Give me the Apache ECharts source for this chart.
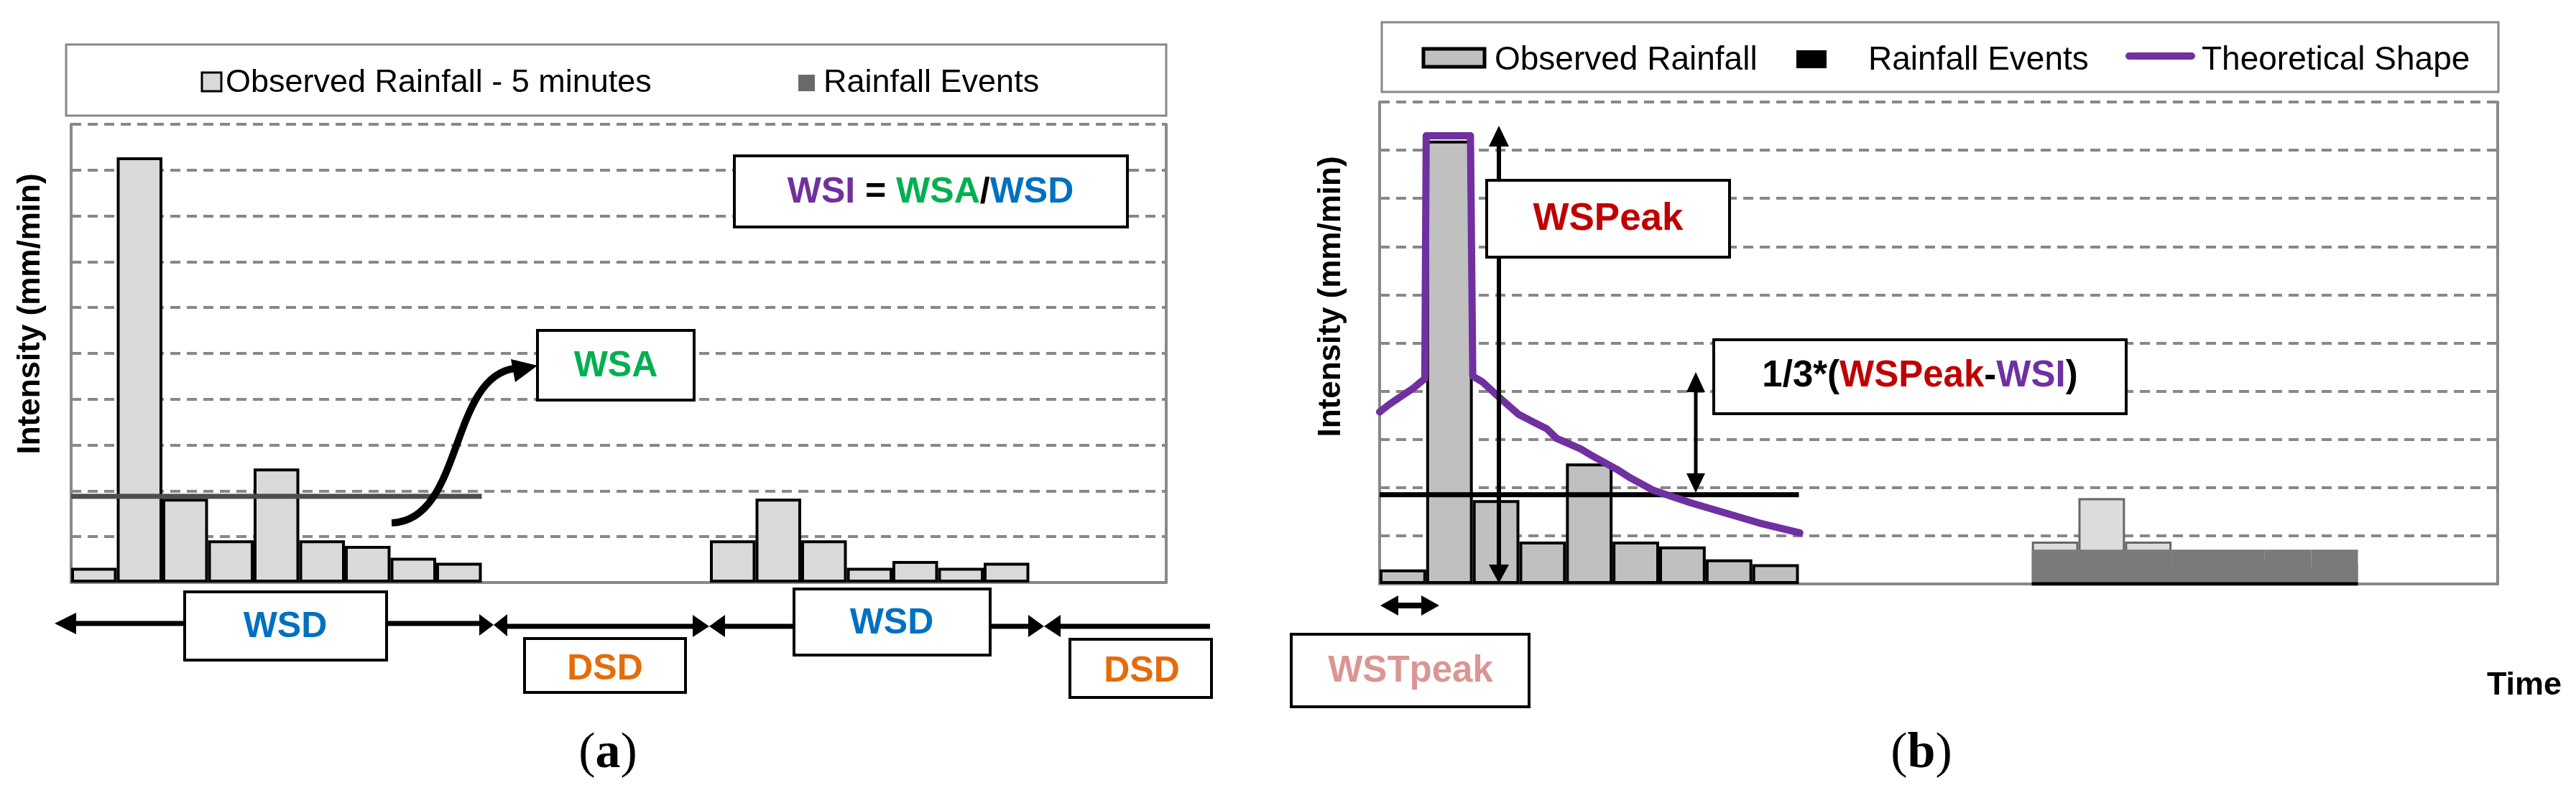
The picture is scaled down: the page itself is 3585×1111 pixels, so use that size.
<!DOCTYPE html>
<html><head><meta charset="utf-8">
<script src="https://cdn.jsdelivr.net/npm/echarts@6/dist/echarts.min.js"></script>
<style>html,body{margin:0;padding:0;background:#fff}#c{width:3585px;height:1111px}</style>
</head><body><div id="c"></div>
<script>
// ---- data ----
const timeSlots = ['1','2','3','4','5','6','7','8','9','10','11','12','13','14','15','16','17','18','19','20','21','22','23','24'];
const rainA = [0.32, 9.28, 1.83, 0.92, 2.49, 0.92, 0.80, 0.54, 0.43, null, null, null, null, null, 0.92, 1.83, 0.92, 0.32, 0.47, 0.32, 0.43, null, null, null];
const rainB = [0.30, 9.20, 1.74, 0.88, 2.50, 0.88, 0.78, 0.51, 0.41, null, null, null, null, null, null, null, null, null, null, null, null, null, null, null];
const rainBFaded = [null, null, null, null, null, null, null, null, null, null, null, null, null, null, 0.88, 1.78, 0.88, 0.32, 0.47, 0.32, 0.43, null, null, null];
const eventsB = [null, null, null, null, null, null, null, null, null, null, null, null, null, null, 0.71, 0.71, 0.71, 0.71, 0.71, 0.71, 0.71, null, null, null];
const wsiA = [[0, 1.88], [9, 1.88]];
const wsiB = [[0, 1.85], [9, 1.85]];
const eventsBase = [[14, 0], [21, 0]];
const theoShape = [[0,3.57],[0.2,3.72],[0.46,3.89],[0.72,4.06],[0.97,4.26],[1.0,9.30],[1.95,9.30],[2.0,4.31],[2.21,4.19],[2.57,3.87],[2.98,3.52],[3.28,3.37],[3.59,3.22],[3.8,3.02],[4.32,2.8],[4.58,2.65],[5.09,2.38],[5.35,2.22],[5.86,1.95],[6.69,1.68],[8.13,1.27],[9.02,1.06]];

const F = "'Liberation Sans', Arial, sans-serif";
const FS = "'Liberation Serif', 'Times New Roman', serif";
const PURPLE = '#7030A0', GREEN = '#00B050', BLUE = '#0070C0', ORANGE = '#E46C0A', RED = '#C00000', PINK = '#DA9694';

const chart = echarts.init(document.getElementById('c'), null, {renderer: 'canvas'});

function catX(g) {
  return {gridIndex: g, type: 'category', data: timeSlots, boundaryGap: true,
    axisLine: {show: true, lineStyle: {color: '#888', width: 4}}, axisTick: {show: false}, axisLabel: {show: false}, splitLine: {show: false}};
}
function valX(g) { return {gridIndex: g, type: 'value', min: 0, max: 24, show: false}; }
function leftY(g) {
  return {gridIndex: g, type: 'value', min: 0, max: 10, interval: 1, position: 'left',
    axisLine: {show: true, lineStyle: {color: '#888', width: 4}}, axisTick: {show: false}, axisLabel: {show: false},
    splitLine: {show: true, lineStyle: {color: '#888', width: 4, type: [14, 9]}}};
}
function rightY(g) {
  return {gridIndex: g, type: 'value', min: 0, max: 10, interval: 1, position: 'right',
    axisLine: {show: true, lineStyle: {color: '#888', width: 4}}, axisTick: {show: false}, axisLabel: {show: false}, splitLine: {show: false}};
}

// ---- annotation helpers ----
const G = [];
function box(x, y, w, h, stroke, lw, z) {
  G.push({type: 'rect', z: z || 58, shape: {x: x, y: y, width: w, height: h}, style: {fill: '#fff', stroke: stroke || '#000', lineWidth: lw || 4}});
}
function txt(x, y, text, opt) {
  opt = opt || {};
  const st = {text: text, x: 0, y: 0, fill: opt.fill || '#000', fontSize: opt.size || 45, fontWeight: opt.weight || 'normal',
    fontFamily: opt.family || F, align: opt.align || 'center', verticalAlign: 'middle', textAlign: opt.align || 'center', textVerticalAlign: 'middle'};
  if (opt.rich) st.rich = opt.rich;
  G.push({type: 'text', z: 60, x: x, y: y, rotation: opt.rot || 0, style: st});
}
function seg(x1, y1, x2, y2, w, color) {
  G.push({type: 'line', z: 55, shape: {x1: x1, y1: y1, x2: x2, y2: y2}, style: {stroke: color || '#000', lineWidth: w}});
}
function tri(pts) {
  G.push({type: 'polygon', z: 55, shape: {points: pts}, style: {fill: '#000'}});
}
function rs(color, size, weight) { return {fill: color, fontSize: size, fontWeight: weight || 'bold', fontFamily: F}; }

// legends
box(92, 62, 1531, 99, '#888', 3, 40);
G.push({type: 'rect', z: 59, shape: {x: 281, y: 101, width: 27, height: 26}, style: {fill: '#D9D9D9', stroke: '#000', lineWidth: 3}});
txt(314, 116, 'Observed Rainfall - 5 minutes', {align: 'left', size: 45});
G.push({type: 'rect', z: 59, shape: {x: 1111, y: 104, width: 23, height: 23}, style: {fill: '#6a6a6a'}});
txt(1146, 116, 'Rainfall Events', {align: 'left', size: 45});

box(1923, 31, 1554, 97, '#888', 3, 40);
G.push({type: 'rect', z: 59, shape: {x: 1981, y: 68, width: 85, height: 25}, style: {fill: '#C0C0C0', stroke: '#000', lineWidth: 5}});
txt(2080, 84, 'Observed Rainfall', {align: 'left', size: 46});
G.push({type: 'rect', z: 59, shape: {x: 2500, y: 70, width: 42, height: 25}, style: {fill: '#000'}});
txt(2600, 84, 'Rainfall Events', {align: 'left', size: 46});
G.push({type: 'line', z: 59, shape: {x1: 2963, y1: 78, x2: 3050, y2: 78}, style: {stroke: PURPLE, lineWidth: 10, lineCap: 'round'}});
txt(3064, 84, 'Theoretical Shape', {align: 'left', size: 46});

// y-axis names
txt(43, 437, 'Intensity (mm/min)', {size: 44, weight: 'bold', rot: Math.PI / 2});
txt(1853, 413, 'Intensity (mm/min)', {size: 44, weight: 'bold', rot: Math.PI / 2});

// panel (a) annotations
box(1022, 217, 547, 99);
txt(1295, 268, '{p|WSI} = {g|WSA}/{b|WSD}', {size: 50, weight: 'bold', rich: {p: rs(PURPLE, 50), g: rs(GREEN, 50), b: rs(BLUE, 50)}});
box(748, 460, 218, 97);
txt(857, 510, 'WSA', {size: 50, weight: 'bold', fill: GREEN});
G.push({type: 'bezierCurve', z: 55, shape: {x1: 545, y1: 728, cpx1: 645, cpy1: 725, cpx2: 625, cpy2: 525, x2: 716, y2: 513}, style: {stroke: '#000', lineWidth: 10, fill: null}});
tri([[711, 500], [748, 509], [717, 532]]);

// duration arrows under axis (a)
seg(92, 868, 672, 868, 7);
tri([[76, 868], [106, 853], [106, 883]]);
tri([[687, 870], [667, 855], [667, 885]]);
seg(700, 872, 975, 872, 7);
tri([[687, 870], [706, 855], [706, 886]]);
tri([[987, 872], [964, 856], [964, 887]]);
seg(1000, 872, 1440, 872, 7);
tri([[987, 872], [1009, 856], [1009, 887]]);
tri([[1453, 872], [1431, 856], [1431, 887]]);
seg(1466, 872, 1684, 872, 7);
tri([[1453, 872], [1476, 856], [1476, 887]]);
box(257, 824, 281, 95);
txt(397, 873, 'WSD', {size: 50, weight: 'bold', fill: BLUE});
box(730, 889, 224, 75);
txt(842, 932, 'DSD', {size: 50, weight: 'bold', fill: ORANGE});
box(1105, 820, 273, 92);
txt(1241, 868, 'WSD', {size: 50, weight: 'bold', fill: BLUE});
box(1489, 890, 197, 81);
txt(1589, 935, 'DSD', {size: 50, weight: 'bold', fill: ORANGE});
txt(846, 1050, '({b|a})', {size: 70, family: FS, rich: {b: {fontSize: 70, fontWeight: 'bold', fontFamily: FS, fill: '#000'}}});

// panel (b) annotations
seg(2086, 200, 2086, 790, 6);
tri([[2086, 175], [2072, 204], [2100, 204]]);
tri([[2086, 812], [2072, 786], [2100, 786]]);
box(2069, 251, 338, 107);
txt(2238, 305, 'WSPeak', {size: 53, weight: 'bold', fill: RED});
seg(2360, 540, 2360, 665, 5);
tri([[2360, 518], [2347, 546], [2373, 546]]);
tri([[2360, 686], [2347, 659], [2373, 659]]);
box(2385, 473, 574, 103);
txt(2672, 524, '1/3*({r|WSPeak}-{p|WSI})', {size: 51, weight: 'bold', rich: {r: rs(RED, 51), p: rs(PURPLE, 51)}});
seg(1940, 843, 1984, 843, 8);
tri([[1921, 843], [1946, 829], [1946, 857]]);
tri([[2003, 843], [1978, 829], [1978, 857]]);
box(1797, 883, 331, 101);
txt(1963, 935, 'WSTpeak', {size: 51, weight: 'bold', fill: PINK});
txt(3513, 955, 'Time', {size: 45, weight: 'bold'});
txt(2674, 1050, '({b|b})', {size: 70, family: FS, rich: {b: {fontSize: 70, fontWeight: 'bold', fontFamily: FS, fill: '#000'}}});

const option = {
  animation: false,
  backgroundColor: '#fff',
  grid: [
    {left: 99, top: 173, width: 1524, height: 638},
    {left: 1920, top: 142, width: 1556, height: 671}
  ],
  xAxis: [catX(0), valX(0), catX(1), valX(1)],
  yAxis: [leftY(0), rightY(0), leftY(1), rightY(1)],
  series: [
    {name: 'Observed Rainfall - 5 minutes', type: 'bar', xAxisIndex: 0, yAxisIndex: 0, data: rainA, barWidth: '100%', barGap: '-100%', z: 3,
      itemStyle: {color: '#D9D9D9', borderColor: '#000', borderWidth: 4}},
    {name: 'WSI (a)', type: 'line', xAxisIndex: 1, yAxisIndex: 0, data: wsiA, symbol: 'none', z: 4,
      lineStyle: {color: '#4d4d4d', width: 7}},
    {name: 'Observed Rainfall (faded)', type: 'bar', xAxisIndex: 2, yAxisIndex: 2, data: rainBFaded, barWidth: '100%', barGap: '-100%', z: 2,
      itemStyle: {color: '#DCDCDC', borderColor: '#666', borderWidth: 3}},
    {name: 'Observed Rainfall', type: 'bar', xAxisIndex: 2, yAxisIndex: 2, data: rainB, barWidth: '100%', barGap: '-100%', z: 3,
      itemStyle: {color: '#C0C0C0', borderColor: '#000', borderWidth: 4}},
    {name: 'Rainfall Events', type: 'bar', xAxisIndex: 2, yAxisIndex: 2, data: eventsB, barWidth: '100%', barGap: '-100%', z: 4,
      itemStyle: {color: '#7a7a7a', borderWidth: 0}},
    {name: 'Events base', type: 'line', xAxisIndex: 3, yAxisIndex: 2, data: eventsBase, symbol: 'none', z: 5,
      lineStyle: {color: '#000', width: 5}},
    {name: 'WSI (b)', type: 'line', xAxisIndex: 3, yAxisIndex: 2, data: wsiB, symbol: 'none', z: 6,
      lineStyle: {color: '#000', width: 7}},
    {name: 'Theoretical Shape', type: 'line', xAxisIndex: 3, yAxisIndex: 2, data: theoShape, symbol: 'none', z: 7,
      lineStyle: {color: PURPLE, width: 10, join: 'round', cap: 'round'}}
  ],
  graphic: {elements: G}
};
chart.setOption(option);
</script>
</body></html>
